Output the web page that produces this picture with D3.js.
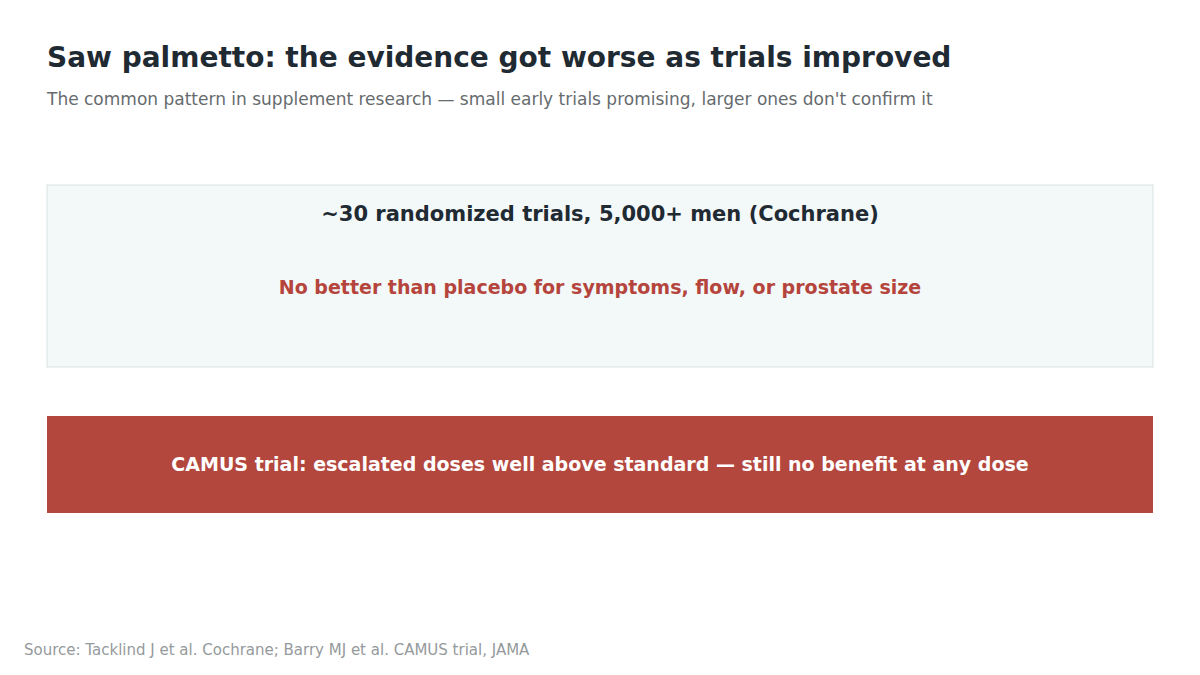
<!DOCTYPE html>
<html>
<head>
<meta charset="utf-8">
<script src="https://cdn.jsdelivr.net/npm/d3@7"></script>
<style>
  body { margin: 0; background: #fff; }
  svg { font-family: "DejaVu Sans", sans-serif; }
</style>
</head>
<body>
<div id="chart"></div>
<script>
// text content
const title = "Saw palmetto: the evidence got worse as trials improved";
const subtitle = "The common pattern in supplement research \u2014 small early trials promising, larger ones don't confirm it";
const panelHeadings = ["~30 randomized trials, 5,000+ men (Cochrane)", "CAMUS trial: escalated doses well above standard \u2014 still no benefit at any dose"];
const panelNotes = ["No better than placebo for symptoms, flow, or prostate size", ""];
const source = "Source: Tacklind J et al. Cochrane; Barry MJ et al. CAMUS trial, JAMA";

const width = 1200, height = 675;
const svg = d3.select("#chart").append("svg")
  .attr("width", width).attr("height", height);

svg.append("text").attr("x", 47).attr("y", 67)
  .attr("font-size", 28).attr("font-weight", "bold").attr("fill", "#1f2a33")
  .text(title);

svg.append("text").attr("x", 47).attr("y", 105)
  .attr("font-size", 17).attr("fill", "#666b6e")
  .text(subtitle);

// panel 1: light box
svg.append("rect").attr("x", 47).attr("y", 185).attr("width", 1106).attr("height", 182)
  .attr("fill", "#f3f8f9").attr("stroke", "#dde3e5");
svg.append("text").attr("x", 600).attr("y", 221).attr("text-anchor", "middle")
  .attr("font-size", 21).attr("font-weight", "bold").attr("fill", "#1f2a33")
  .text(panelHeadings[0]);
svg.append("text").attr("x", 600).attr("y", 294).attr("text-anchor", "middle")
  .attr("font-size", 19).attr("font-weight", "bold").attr("fill", "#b5453c")
  .text(panelNotes[0]);

// panel 2: red band
svg.append("rect").attr("x", 47).attr("y", 416).attr("width", 1106).attr("height", 97)
  .attr("fill", "#b3463d");
svg.append("text").attr("x", 600).attr("y", 471).attr("text-anchor", "middle")
  .attr("font-size", 19).attr("font-weight", "bold").attr("fill", "#ffffff")
  .text(panelHeadings[1]);

svg.append("text").attr("x", 24).attr("y", 655)
  .attr("font-size", 15).attr("fill", "#959a9c")
  .text(source);
</script>
</body>
</html>
